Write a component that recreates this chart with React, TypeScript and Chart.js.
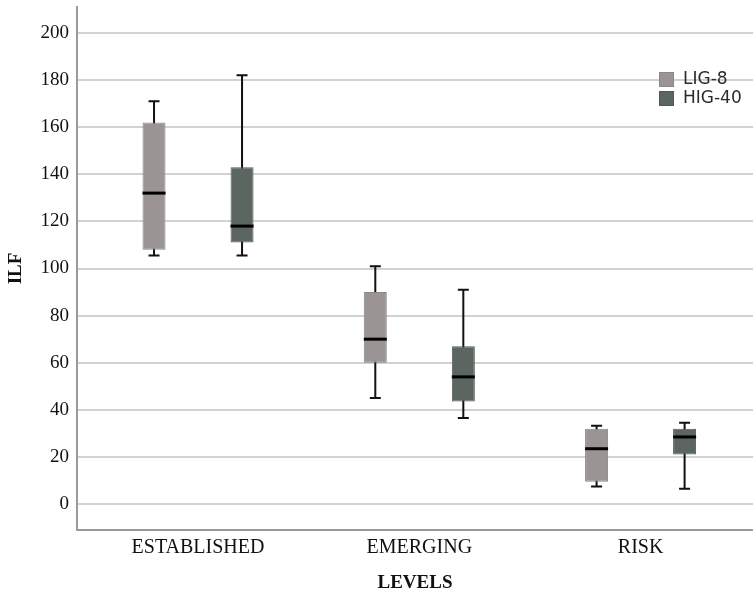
import React, { useEffect, useRef } from 'react';
import { Chart, registerables } from 'chart.js';

Chart.register(...registerables);

// ---- data ----
const categories = ['ESTABLISHED', 'EMERGING', 'RISK'];
const seriesLabels = ['LIG-8', 'HIG-40'];
const seriesColors = ['#9a9495', '#5b6660'];
const seriesBorders = ['#8c8687', '#505a55'];

const ligMin = [105.5, 45, 7.5];
const ligQ1 = [108, 60, 9.5];
const ligMedian = [132, 70, 23.5];
const ligQ3 = [162, 90, 32];
const ligMax = [171, 101, 33.3];

const higMin = [105.5, 36.5, 6.5];
const higQ1 = [111, 43.5, 21];
const higMedian = [118, 54, 28.5];
const higQ3 = [143, 67, 32];
const higMax = [182, 91, 34.5];

const yTicksMin = -11;
const yTicksMax = 211;
const xMin = -0.547;
const xMax = 2.508;

const stats = [
  { min: ligMin, q1: ligQ1, med: ligMedian, q3: ligQ3, max: ligMax },
  { min: higMin, q1: higQ1, med: higMedian, q3: higQ3, max: higMax },
];

const whiskerPlugin = {
  id: 'whiskers',
  beforeDatasetsDraw(chart: any) {
    const ctx = chart.ctx;
    const y = chart.scales.y;
    ctx.save();
    ctx.strokeStyle = '#111';
    ctx.lineWidth = 2;
    stats.forEach((s, di) => {
      const meta = chart.getDatasetMeta(di);
      meta.data.forEach((el: any, j: number) => {
        const x = el.x;
        const yMin = y.getPixelForValue(s.min[j]);
        const yMax = y.getPixelForValue(s.max[j]);
        const cap = 5.5;
        ctx.beginPath();
        ctx.moveTo(x, yMax);
        ctx.lineTo(x, yMin);
        ctx.moveTo(x - cap, yMax);
        ctx.lineTo(x + cap, yMax);
        ctx.moveTo(x - cap, yMin);
        ctx.lineTo(x + cap, yMin);
        ctx.stroke();
      });
    });
    ctx.restore();
  },
  afterDatasetsDraw(chart: any) {
    const ctx = chart.ctx;
    const y = chart.scales.y;
    ctx.save();
    ctx.strokeStyle = '#000';
    ctx.lineWidth = 3;
    stats.forEach((s, di) => {
      const meta = chart.getDatasetMeta(di);
      meta.data.forEach((el: any, j: number) => {
        const ym = y.getPixelForValue(s.med[j]);
        ctx.beginPath();
        ctx.moveTo(el.x - el.width / 2, ym);
        ctx.lineTo(el.x + el.width / 2, ym);
        ctx.stroke();
      });
    });
    // legend
    const area = chart.chartArea;
    const lx = area.right - 94;
    let ly = area.top + 65;
    ctx.font = '17px "DejaVu Sans"';
    ctx.textBaseline = 'middle';
    ctx.textAlign = 'left';
    seriesLabels.forEach((lab, i) => {
      ctx.fillStyle = seriesColors[i];
      ctx.fillRect(lx, ly, 15, 15);
      ctx.strokeStyle = seriesBorders[i];
      ctx.lineWidth = 1;
      ctx.strokeRect(lx + 0.5, ly + 0.5, 14, 14);
      ctx.fillStyle = '#2a2a2a';
      ctx.fillText(lab, lx + 24, ly + 8);
      ly += 19;
    });
    ctx.restore();
  },
};

export default function App() {
  const ref = useRef<HTMLCanvasElement>(null);
  useEffect(() => {
    if (!ref.current) return;
    const chart = new Chart(ref.current, {
      type: 'bar',
      data: {
        datasets: stats.map((s, di) => ({
          label: seriesLabels[di],
          data: categories.map((_, j) => ({ x: j, y: [s.q1[j], s.q3[j]] })),
          backgroundColor: seriesColors[di],
          borderColor: seriesBorders[di],
          borderWidth: 1,
          borderSkipped: false,
          categoryPercentage: 0.7955,
          barPercentage: 0.2614,
        })),
      } as any,
      options: {
        animation: false,
        responsive: true,
        maintainAspectRatio: false,
        layout: { padding: { top: 7, left: 0, right: 0, bottom: 0 } },
        plugins: {
          legend: { display: false },
          tooltip: { enabled: false },
        },
        scales: {
          x: {
            type: 'linear',
            min: xMin,
            max: xMax,
            offset: false,
            grid: { display: true, color: 'transparent', drawTicks: false, offset: false },
            border: { display: true, color: '#9a9a9a', width: 2 },
            ticks: {
              stepSize: 1,
              includeBounds: false,
              autoSkip: false,
              maxRotation: 0,
              padding: 6,
              color: '#111',
              font: { family: '"Liberation Serif", "Times New Roman", serif', size: 20 },
              callback: (v: any) => categories[v] ?? '',
            },
            title: {
              display: true,
              text: 'LEVELS',
              color: '#111',
              padding: { top: 0, bottom: 0 },
              font: { family: '"Liberation Serif", "Times New Roman", serif', size: 19, weight: 'bold' },
            },
            afterFit: (s: any) => {
              s.height = 64;
              s.paddingLeft = 0;
              s.paddingRight = 0;
            },
          },
          y: {
            type: 'linear',
            min: yTicksMin,
            max: yTicksMax,
            stacked: false,
            grid: { color: '#d2d2d2', lineWidth: 2, drawTicks: false },
            border: { display: true, color: '#9a9a9a', width: 2 },
            ticks: {
              stepSize: 20,
              includeBounds: false,
              padding: 8,
              color: '#111',
              font: { family: '"Liberation Serif", "Times New Roman", serif', size: 19 },
            },
            title: {
              display: true,
              text: 'ILF',
              color: '#111',
              padding: { top: 5, bottom: 0 },
              font: { family: '"Liberation Serif", "Times New Roman", serif', size: 19, weight: 'bold' },
            },
            afterFit: (s: any) => {
              s.width = 77;
              s.paddingTop = 0;
              s.paddingBottom = 0;
            },
          },
        },
      } as any,
      plugins: [whiskerPlugin],
    });
    return () => chart.destroy();
  }, []);
  return (
    <div style={{ position: 'fixed', left: 0, top: 0, width: 753, height: 594, background: '#fff' }}>
      <canvas ref={ref} />
    </div>
  );
}
